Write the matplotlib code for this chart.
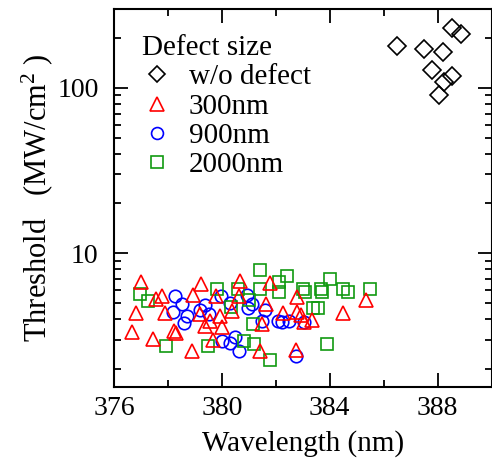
import numpy as np
import matplotlib
matplotlib.use("Agg")
import matplotlib.pyplot as plt

plt.rcParams['font.family'] = ['Liberation Serif', 'DejaVu Serif']
plt.rcParams['mathtext.fontset'] = 'custom'
plt.rcParams['mathtext.rm'] = 'Liberation Serif'
plt.rcParams['mathtext.it'] = 'Liberation Serif:italic'

# w/o defect
wl_none = [388.53, 388.88, 386.49, 387.48, 388.20, 387.79, 388.53, 388.22, 388.04]
th_none = [230, 213, 178.6, 173, 165, 128, 117.7, 108.7, 90.4]

# 300nm
wl_300 = [376.67, 376.81, 377.00, 377.44, 377.56, 377.78, 377.89, 378.22, 378.30,
          378.89, 378.93, 379.22, 379.19, 379.37, 379.56, 379.78, 379.93, 380.00,
          379.67, 380.37, 380.67, 380.63, 381.78, 381.63, 381.48, 381.41, 382.26,
          382.78, 382.78, 382.93, 383.04, 383.33, 382.74, 384.48, 385.33]
th_300 = [3.35, 4.36, 6.71, 3.04, 5.30, 5.52, 4.36, 3.40, 3.30,
          2.57, 5.59, 6.53, 4.30, 3.64, 3.90, 5.52, 4.18, 3.59,
          3.00, 4.49, 6.80, 5.52, 6.61, 4.94, 3.74, 2.55, 4.36,
          5.45, 4.43, 4.26, 3.85, 3.96, 2.61, 4.36, 5.22]

# 900nm
wl_900 = [378.26, 378.52, 378.19, 378.69, 378.59, 379.19, 379.37, 379.52, 379.98,
          380.31, 380.94, 381.11, 380.98, 381.59, 381.50, 382.09, 382.22, 382.48,
          383.04, 380.02, 380.31, 380.48, 380.63, 382.74]
th_900 = [5.52, 4.94, 4.42, 4.18, 3.80, 4.52, 4.84, 4.30, 5.52,
          5.01, 5.56, 4.94, 4.67, 4.54, 3.90, 3.90, 3.82, 3.90,
          3.82, 2.95, 2.87, 3.10, 2.57, 2.40]

# 2000nm
wl_2000 = [376.96, 377.27, 377.94, 379.49, 379.81, 380.35, 380.60, 380.81, 381.19,
           381.00, 381.17, 381.41, 381.41, 382.11, 382.11, 382.41, 381.78, 383.02,
           383.09, 383.69, 383.72, 384.00, 384.48, 384.68, 385.48, 383.39, 383.57,
           383.89]
th_2000 = [5.68, 5.15, 2.76, 2.76, 6.06, 4.74, 6.10, 2.95, 2.83,
           5.22, 3.73, 7.87, 6.10, 6.74, 5.86, 7.29, 2.25, 6.10,
           5.84, 6.10, 5.86, 7.02, 6.10, 5.84, 6.10, 4.69, 4.69,
           2.82]

fig = plt.figure(figsize=(4.92, 4.68), dpi=100)
ax = fig.add_axes([0.2317, 0.1737, 0.7673, 0.8071])

mew = 1.2
h0, = ax.plot(wl_none, th_none, 'D', ms=9, mfc='none', mec='black', mew=mew, ls='none', zorder=3)
h2, = ax.plot(wl_900, th_900, 'o', ms=9, mfc='none', mec='#0000ff', mew=mew, ls='none', zorder=2)
h3, = ax.plot(wl_2000, th_2000, 's', ms=8.6, mfc='none', mec='#109a10', mew=mew, ls='none', zorder=2.5)
h1, = ax.plot(wl_300, th_300, '^', ms=10.5, mfc='none', mec='#ff0000', mew=mew, ls='none', zorder=3)

ax.set_yscale('log')
ax.set_xlim(376, 390)
ax.set_ylim(1.56, 300)
ax.set_xticks([376, 380, 384, 388])
ax.set_xticks([378, 382, 386], minor=True)
ax.set_yticks([10, 100])
ax.set_yticklabels(['10', '100'])
ax.yaxis.set_minor_formatter(matplotlib.ticker.NullFormatter())

ax.tick_params(which='both', direction='in', top=True, right=True, labelsize=20, width=1.3)
ax.tick_params(axis='x', which='both', pad=7)
ax.tick_params(axis='y', which='both', pad=11)
ax.tick_params(which='major', length=10)
ax.tick_params(which='minor', length=5)
for s in ax.spines.values():
    s.set_linewidth(1.5)

ax.set_xlabel('Wavelength (nm)', fontsize=21, labelpad=6)
ax.set_ylabel(r'Threshold   (MW/cm$^{2}$ )', fontsize=22, labelpad=2)

leg = ax.legend([h0, h1, h2, h3], ['w/o defect', '300nm', '900nm', '2000nm'],
                title='Defect size', loc='upper left', bbox_to_anchor=(0.02, 0.985),
                frameon=False, fontsize=21, title_fontsize=21, alignment='left',
                handlelength=1.0, handletextpad=0.6, labelspacing=0.1, borderpad=0.2,
                markerscale=0.95)

fig.savefig('out.png', dpi=100)
